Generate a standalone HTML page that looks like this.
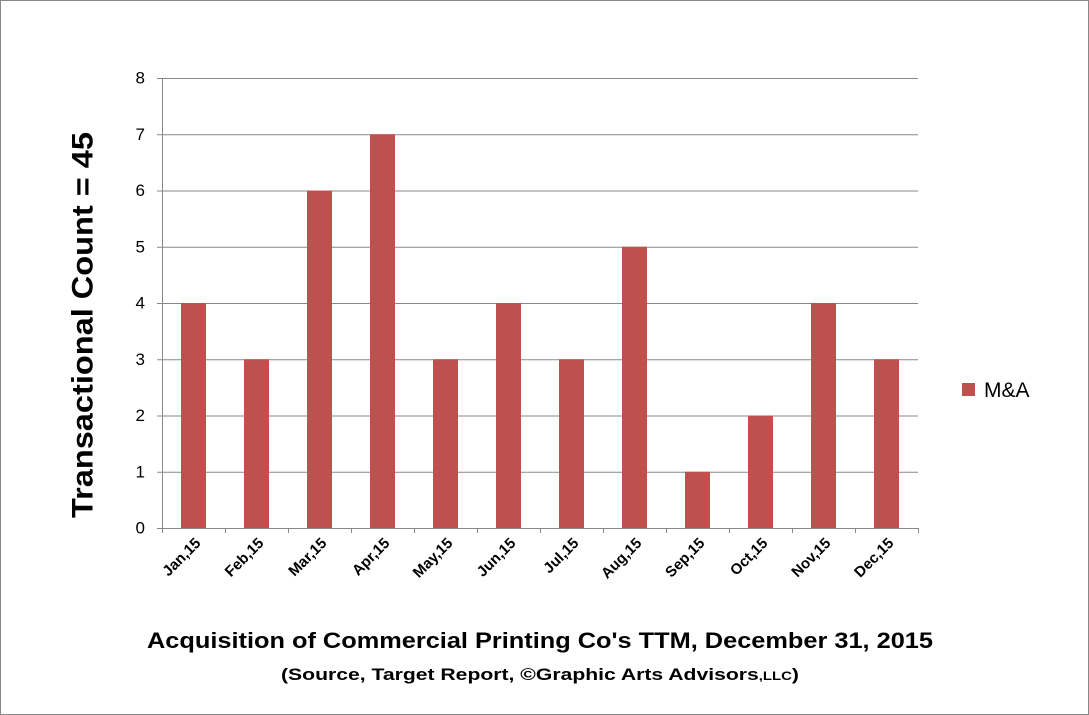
<!DOCTYPE html>
<html><head><meta charset="utf-8"><style>
html,body{margin:0;padding:0;background:#fff}
svg{display:block;font-family:"Liberation Sans",sans-serif}
</style></head><body>
<svg id="chart" width="1089" height="715" viewBox="0 0 1089 715">
<rect x="0.5" y="0.5" width="1088" height="714" fill="#fff" stroke="#888"/>
<g id="grid"></g>
<g id="bars"></g>
<g id="axes"></g>
<text x="83" y="325" transform="rotate(-90 83 325)" text-anchor="middle" dominant-baseline="central" font-size="30" font-weight="bold" textLength="386" lengthAdjust="spacingAndGlyphs">Transactional Count = 45</text>
<text x="540" y="648" text-anchor="middle" font-size="22" font-weight="bold" textLength="786" lengthAdjust="spacingAndGlyphs">Acquisition of Commercial Printing Co's TTM, December 31, 2015</text>
<text x="540" y="680" text-anchor="middle" font-size="17" font-weight="bold" textLength="518" lengthAdjust="spacingAndGlyphs">(Source, Target Report, ©Graphic Arts Advisors<tspan font-size="12">,LLC</tspan>)</text>
<rect x="962" y="383" width="13" height="13" fill="#c0504d"/>
<text x="984" y="397" font-size="21">M&amp;A</text>
</svg>
<script>
const categories = ["Jan,15","Feb,15","Mar,15","Apr,15","May,15","Jun,15","Jul,15","Aug,15","Sep,15","Oct,15","Nov,15","Dec,15"];
const values = [4,3,6,7,3,4,3,5,1,2,4,3];
const yTicks = [0,1,2,3,4,5,6,7,8];
const NS="http://www.w3.org/2000/svg";
const X0=162,X1=918,Y0=528,Y1=78,YMAX=8;
const band=(X1-X0)/categories.length;
const y=v=>Y0-(v/YMAX)*(Y0-Y1);
const xc=i=>X0+band*(i+0.5);
function mk(tag,attrs,parent){const e=document.createElementNS(NS,tag);for(const k in attrs)e.setAttribute(k,attrs[k]);parent.appendChild(e);return e;}
const grid=document.getElementById('grid'),bars=document.getElementById('bars'),axes=document.getElementById('axes');
yTicks.forEach(t=>{
  if(t>0){const g=mk('line',{x1:X0,x2:X1,y1:y(t)+0.5,y2:y(t)+0.5,stroke:'#888','stroke-width':1},grid);
  
  }
  const tk=mk('line',{x1:X0-5,x2:X0,y1:y(t)+0.5,y2:y(t)+0.5,stroke:'#888'},axes);
  
  
  const tl=mk('text',{x:X0-17,y:y(t),'text-anchor':'end','dominant-baseline':'central','font-size':17},axes);
  tl.textContent=t;
  
  
});
values.forEach((v,i)=>{
  const b=mk('rect',{x:xc(i)-12.5,y:y(v),width:25,height:Y0-y(v),fill:'#c0504d'},bars);
  
  
});
const ax=mk('line',{x1:X0+0.5,x2:X0+0.5,y1:Y1,y2:Y0,stroke:'#888'},axes);


const xa=mk('line',{x1:X0,x2:X1,y1:Y0+0.5,y2:Y0+0.5,stroke:'#888'},axes);


for(let i=0;i<=categories.length;i++){
  const xt=mk('line',{x1:X0+band*i+0.5,x2:X0+band*i+0.5,y1:Y0,y2:Y0+5,stroke:'#888'},axes);
  
  
}
categories.forEach((c,i)=>{
  const px=xc(i)+8,py=Y0+16;
  const t=mk('text',{x:px,y:py,'text-anchor':'end','font-size':15,'font-weight':'bold',transform:`rotate(-45 ${px} ${py})`},axes);
  t.textContent=c;
  
  
});
</script>
</body></html>
